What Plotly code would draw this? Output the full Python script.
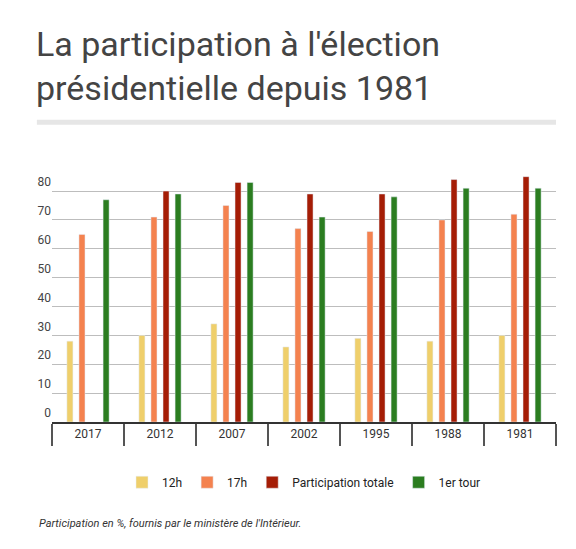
import plotly.graph_objects as go

years = ["2017", "2012", "2007", "2002", "1995", "1988", "1981"]
h12 = [28, 30, 34, 26, 29, 28, 30]
h17 = [65, 71, 75, 67, 66, 70, 72]
totale = [None, 80, 83, 79, 79, 84, 85]
tour1 = [77, 79, 83, 71, 78, 81, 81]

series = [
    ("12h", h12, "#efcf6b"),
    ("17h", h17, "#f4824f"),
    ("Participation totale", totale, "#a51d06"),
    ("1er tour", tour1, "#2b7d20"),
]

fig = go.Figure()
for name, vals, col in series:
    fig.add_trace(go.Bar(x=years, y=vals, name=name, marker_color=col))

fig.update_layout(
    width=576, height=549,
    margin=dict(l=44, r=28, t=160, b=135, autoexpand=False),
    paper_bgcolor="white", plot_bgcolor="white",
    font=dict(family="Roboto", color="#444"),
    barmode="group", bargap=0.33, bargroupgap=0.5,
    showlegend=True,
    legend=dict(orientation="h", x=0.5, xanchor="center", y=-0.18, yanchor="top",
                font=dict(size=12, color="#222"), itemwidth=30),
    shapes=[dict(type="line", xref="paper", yref="paper", x0=-0.03, x1=1.0,
                 y0=1.18, y1=1.18, line=dict(color="#e6e6e6", width=5))],
    annotations=[
        dict(text="La participation à l'élection<br>présidentielle depuis 1981",
             xref="paper", yref="paper", x=-0.035, y=1.575, xanchor="left", yanchor="top",
             align="left", showarrow=False,
             font=dict(size=34, color="#444", family="Roboto")),
        dict(text="<i>Participation en %, fournis par le ministère de l'Intérieur.</i>",
             xref="paper", yref="paper", x=-0.03, y=-0.4, xanchor="left",
             yanchor="middle", showarrow=False, font=dict(size=11, color="#333")),
    ],
)
fig.update_xaxes(showline=True, linecolor="#333", linewidth=2, ticks="outside",
                 tickson="boundaries", ticklen=22, tickcolor="#555", tickwidth=2,
                 tickfont=dict(size=12, color="#333"), automargin=False)
fig.update_yaxes(range=[0, 88], dtick=10, gridcolor="#bdbdbd", zeroline=False,
                 tickfont=dict(size=12, color="#444"), ticklabelshift=-9,
                 automargin=False)

fig.write_html("out.html")
